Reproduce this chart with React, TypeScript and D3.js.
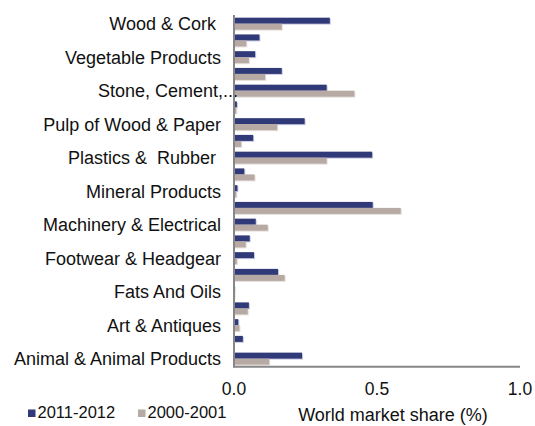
import React from "react";
import * as d3 from "d3";

const categories = [
  "Wood & Cork ",
  "Vehicles",
  "Vegetable Products",
  "Textiles",
  "Stone, Cement,...",
  "Raw Hides & Skins",
  "Pulp of Wood & Paper",
  "Precious Stones",
  "Plastics &  Rubber ",
  "Miscellaneous",
  "Mineral Products",
  "Metals",
  "Machinery & Electrical",
  "Instruments",
  "Footwear & Headgear",
  "Foodstuffs",
  "Fats And Oils",
  "Chemicals",
  "Art & Antiques",
  "Arms & Ammunition",
  "Animal & Animal Products",
];

const series2011 = [
  0.335, 0.089, 0.074, 0.167, 0.324, 0.01, 0.247, 0.067, 0.483, 0.036, 0.012,
  0.485, 0.076, 0.055, 0.07, 0.154, 0.002, 0.052, 0.015, 0.031, 0.238,
];
const series2000 = [
  0.167, 0.043, 0.052, 0.109, 0.421, 0.008, 0.151, 0.025, 0.324, 0.072, 0.008,
  0.583, 0.118, 0.041, 0.01, 0.177, 0.002, 0.048, 0.019, 0.0, 0.123,
];
const seriesNames = ["2011-2012", "2000-2001"];
const xTicks = [0, 0.5, 1.0];
const axisTitle = "World market share (%)";

const BLUE = "#313a78";
const GREY = "#b7a9a3";
const FONT = "'Liberation Sans', Arial, sans-serif";

export default function App() {
  const width = 535;
  const height = 426;
  const x = d3.scaleLinear().domain([0, 1]).range([234, 520]);
  const y = d3
    .scaleBand<number>()
    .domain(d3.range(categories.length))
    .range([15.3, 367])
    .padding(0);
  const bw = y.bandwidth();
  const barH = 6;

  return (
    <svg
      width={width}
      height={height}
      style={{ position: "absolute", left: 0, top: 0, background: "#fff" }}
      fontFamily={FONT}
    >
      {categories.map((c, i) => {
        const cy = (y(i) as number) + bw / 2;
        const truncated = c.endsWith("...");
        return (
          <g key={c}>
            <rect x={x(0)} y={cy - barH + 1} width={Math.max(0, x(series2011[i]) - x(0)) + 1} height={barH} fill="#c9cbe0" />
            <rect x={x(0)} y={cy + 1} width={Math.max(0, x(series2000[i]) - x(0)) + 1} height={barH} fill="#e6e0dd" />
            <rect x={x(0)} y={cy - barH} width={Math.max(0, x(series2011[i]) - x(0))} height={barH} fill={BLUE} />
            <rect x={x(0)} y={cy} width={Math.max(0, x(series2000[i]) - x(0))} height={barH} fill={GREY} />
            {i % 2 === 0 && (
              <text
                x={truncated ? 238 : 221}
                y={cy + 6.4}
                textAnchor="end"
                fontSize={18}
                fill="#111"
                style={{ whiteSpace: "pre" }}
              >
                {c}
              </text>
            )}
          </g>
        );
      })}
      <line x1={x(0)} x2={x(0)} y1={15} y2={367.5} stroke="#878787" strokeWidth={2} />
      <line x1={x(0) - 1} x2={x(1)} y1={366.7} y2={366.7} stroke="#878787" strokeWidth={2} />
      {xTicks.map((t) => (
        <text key={t} x={x(t)} y={395} textAnchor="middle" fontSize={17.5} fill="#111">
          {d3.format(".1f")(t)}
        </text>
      ))}
      <text x={393} y={421} textAnchor="middle" fontSize={18} fill="#111">
        {axisTitle}
      </text>
      {seriesNames.map((s, i) => (
        <g key={s} transform={`translate(${28 + i * 110},0)`}>
          <rect x={0} y={409.5} width={7.5} height={7.5} fill={i === 0 ? BLUE : GREY} />
          <text x={9.5} y={418} fontSize={16.5} fill="#111">
            {s}
          </text>
        </g>
      ))}
    </svg>
  );
}
